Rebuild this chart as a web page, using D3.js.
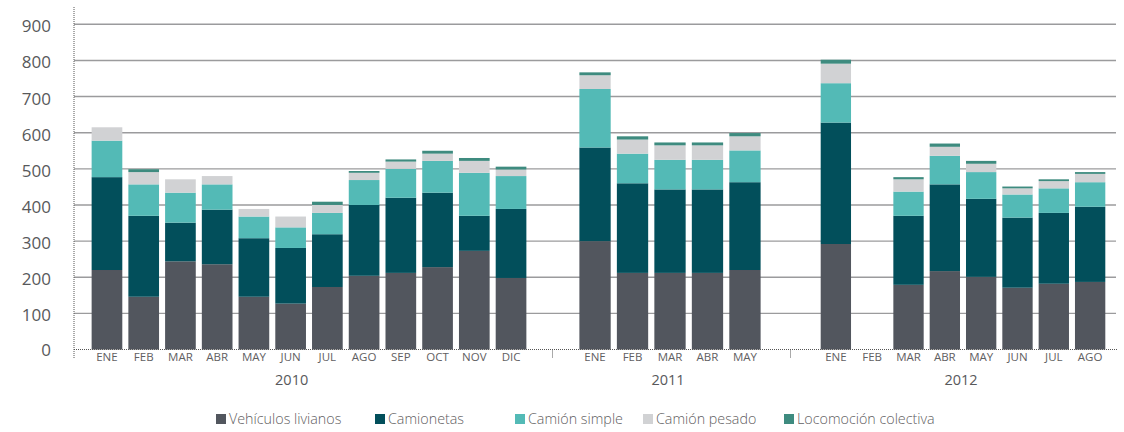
<!DOCTYPE html>
<html>
<head>
<meta charset="utf-8">
<script src="https://cdn.jsdelivr.net/npm/d3@7"></script>
<style>
  body { margin: 0; background: #fff; }
  svg { display: block; font-family: "Open Sans", sans-serif; }
</style>
</head>
<body>
<svg id="chart" width="1124" height="432"></svg>
<script>
// years and their months (as shown on the x axis)
const years = ['2010', '2011', '2012'];
const months2010 = ['ENE', 'FEB', 'MAR', 'ABR', 'MAY', 'JUN', 'JUL', 'AGO', 'SEP', 'OCT', 'NOV', 'DIC'];
const months2011 = ['ENE', 'FEB', 'MAR', 'ABR', 'MAY'];
const months2012 = ['ENE', 'FEB', 'MAR', 'ABR', 'MAY', 'JUN', 'JUL', 'AGO'];

const seriesNames = ['Vehículos livianos', 'Camionetas', 'Camión simple', 'Camión pesado', 'Locomoción colectiva'];

// values, one per month in order 2010 | 2011 | 2012
const livianos   = [220, 146, 244, 236, 146, 127, 173, 204, 212, 228, 273, 198,  300, 212, 212, 212, 220,  292, 0, 179, 217, 201, 171, 182, 187];
const camionetas = [257, 224, 107, 151, 162, 154, 146, 196, 208, 206,  97, 191,  259, 248, 231, 231, 243,  336, 0, 191, 240, 216, 194, 196, 208];
const simple     = [101,  87,  83,  70,  60,  57,  59,  69,  80,  88, 119,  91,  162,  82,  82,  82,  88,  109, 0,  67,  79,  74,  64,  68,  68];
const pesado     = [ 37,  34,  37,  23,  21,  30,  22,  20,  20,  20,  33,  18,   38,  39,  40,  40,  39,   54, 0,  34,  25,  23,  17,  20,  23];
const colectiva  = [  0,   8,   0,   0,   0,   0,   9,   5,   6,   8,   8,   8,    8,   9,   8,   8,   9,   11, 0,   6,   9,   8,   5,   5,   5];

const yTicks = [0, 100, 200, 300, 400, 500, 600, 700, 800, 900];

const colors = ['#52565e', '#024f5b', '#53bab6', '#d1d2d4', '#3e8b7f'];
const keys = ['livianos', 'camionetas', 'simple', 'pesado', 'colectiva'];

const svg = d3.select('#chart');

// layout
const axisX = 74, axisY = 349.5, plotTop = 24.3, plotRight = 1116;
const groups = [
    { year: years[0], months: months2010, range: [88.6, 529.4], labelAt: 'JUN' },
    { year: years[1], months: months2011, range: [576.3, 763.7], labelAt: null },
    { year: years[2], months: months2012, range: [817.7, 1108.3], labelAt: null }
];
const separators = [axisX, 552.5, 790.5];

const y = d3.scaleLinear().domain([0, 900]).range([axisY, plotTop]);

// flat table for the stack
const rows = [];
groups.forEach(g => {
    g.x = d3.scaleBand().domain(g.months).range(g.range).paddingInner(0.165).paddingOuter(0.0825);
    g.months.forEach(m => rows.push({ g, m }));
});
rows.forEach((r, i) => {
    r.livianos = livianos[i];
    r.camionetas = camionetas[i];
    r.simple = simple[i];
    r.pesado = pesado[i];
    r.colectiva = colectiva[i];
});

// grid lines
svg.append('g')
    .selectAll('line')
    .data(yTicks.filter(t => t > 0))
    .enter()
    .append('line')
    .attr('x1', axisX)
    .attr('x2', plotRight)
    .attr('y1', d => y(d))
    .attr('y2', d => y(d))
    .attr('stroke', '#9b9b9d')
    .attr('stroke-width', 1.4);

// y labels
svg.append('g')
    .selectAll('text')
    .data(yTicks)
    .enter()
    .append('text')
    .attr('x', 51)
    .attr('y', d => y(d) + (d === 0 ? 1 : 2))
    .attr('dy', '0.35em')
    .attr('text-anchor', 'end')
    .attr('fill', '#58595b')
    .style('font-size', '17px')
    .text(d => d);

// stacked bars
const stacked = d3.stack().keys(keys)(rows);
svg.append('g')
    .selectAll('g')
    .data(stacked)
    .enter()
    .append('g')
    .attr('fill', (d, i) => colors[i])
    .selectAll('rect')
    .data(d => d)
    .enter()
    .append('rect')
    .attr('x', d => d.data.g.x(d.data.m))
    .attr('width', d => d.data.g.x.bandwidth())
    .attr('y', d => y(d[1]))
    .attr('height', d => y(d[0]) - y(d[1]));

// dotted axes
const dotted = svg.append('g')
    .attr('stroke', '#555')
    .attr('stroke-width', 1)
    .attr('stroke-dasharray', '1,1');

dotted.append('line')
    .attr('x1', axisX).attr('x2', axisX)
    .attr('y1', 7).attr('y2', 358);
dotted.append('line')
    .attr('x1', axisX).attr('x2', plotRight + 2)
    .attr('y1', axisY).attr('y2', axisY);
dotted.selectAll('line.sep')
    .data(separators.slice(1))
    .enter()
    .append('line')
    .attr('class', 'sep')
    .attr('x1', d => d).attr('x2', d => d)
    .attr('y1', axisY).attr('y2', 358);

// month labels
svg.append('g')
    .selectAll('text')
    .data(rows)
    .enter()
    .append('text')
    .attr('x', d => d.g.x(d.m) + d.g.x.bandwidth() / 2)
    .attr('y', 361)
    .attr('text-anchor', 'middle')
    .attr('fill', '#5f6062')
    .style('font-size', '11.5px')
    .text(d => d.m);

// year labels
svg.append('g')
    .selectAll('text')
    .data(groups)
    .enter()
    .append('text')
    .attr('x', g => g.labelAt
        ? g.x(g.labelAt) + g.x.bandwidth() / 2 + 1
        : (g.range[0] + g.range[1]) / 2 - 2)
    .attr('y', 385)
    .attr('text-anchor', 'middle')
    .attr('fill', '#58595b')
    .style('font-size', '14.5px')
    .text(g => g.year);

// legend
const legendX = [216, 375, 515, 643, 784];
const legend = svg.append('g')
    .selectAll('g')
    .data(seriesNames)
    .enter()
    .append('g')
    .attr('transform', (d, i) => `translate(${legendX[i]}, 419)`);

legend.append('rect')
    .attr('x', 0)
    .attr('y', -5)
    .attr('width', 10)
    .attr('height', 10)
    .attr('fill', (d, i) => colors[i]);

legend.append('text')
    .attr('x', 13)
    .attr('y', 0)
    .attr('dy', '0.35em')
    .attr('fill', '#5f6062')
    .style('font-size', '14.3px')
    .style('font-weight', 300)
    .text(d => d);
</script>
</body>
</html>
